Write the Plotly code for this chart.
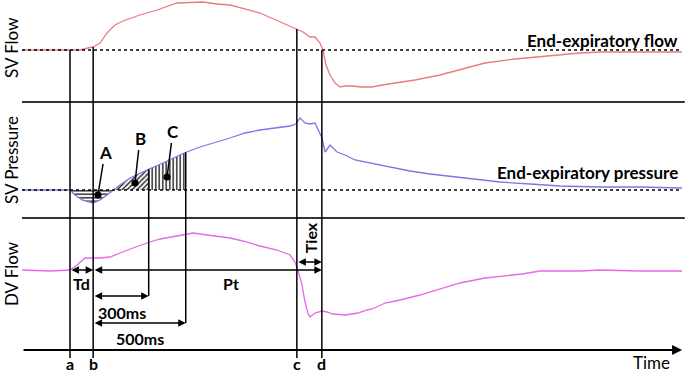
import numpy as np
import plotly.graph_objects as go

# ---------------- data (time in ms, signals as deviation from end-expiratory level, arbitrary units)
sv_flow_t = [-259, 0, 54, 97, 124, 162, 200, 243, 286, 378, 470, 578, 718, 794, 864, 1026, 1188,
             1226, 1258, 1296, 1323, 1350, 1366, 1382, 1404, 1431, 1458, 1485, 1523, 1577, 1631,
             1685, 1755, 1863, 1998, 2106, 2241, 2403, 2565, 2754, 2862, 3078, 3305]
sv_flow = [0, 0, 0, 2, 3, 7, 17, 25, 29, 35, 40, 47, 48, 46, 45, 37, 24,
           21, 18, 13, 13, 7, 0, -15, -25, -33, -37, -36, -36, -37, -37,
           -35, -33, -30, -25, -20, -13, -9, -6, -3, -2, -2, -2]

sv_pres_t = [-259, 0, 27, 65, 124, 162, 200, 232, 270, 324, 378, 427, 502, 616, 702, 794, 864,
             945, 1026, 1107, 1188, 1220, 1242, 1269, 1296, 1323, 1361, 1377, 1404, 1442, 1485,
             1539, 1620, 1701, 1836, 1944, 2079, 2160, 2322, 2484, 2646, 2862, 3078, 3305]
sv_pres = [0, 0, -5, -10, -13, -10, -5, 0, 5, 12, 17, 21, 27, 37, 43, 48, 52,
           57, 60, 62, 64, 66, 72, 67, 66, 67, 52, 38, 45, 38, 35,
           30, 27, 24, 19, 16, 13, 11, 8, 6, 4, 3, 3, 2]

dv_flow_t = [-259, -108, 0, 38, 81, 124, 162, 216, 270, 340, 416, 486, 578, 664, 740, 864, 934,
             1026, 1118, 1188, 1215, 1231, 1253, 1269, 1285, 1296, 1323, 1361, 1388, 1420, 1485,
             1555, 1604, 1631, 1701, 1782, 1890, 1998, 2106, 2241, 2349, 2441, 2538, 2754, 2862,
             3078, 3305]
dv_flow = [0, -1, 0, 5, 12, 12, 12, 13, 17, 22, 27, 31, 34, 37, 35, 32, 29,
           24, 20, 15, 8, 0, -15, -32, -43, -47, -43, -41, -42, -44, -45,
           -43, -40, -39, -33, -30, -25, -19, -13, -8, -6, -4, -1, -1, 0,
           -1, -1]

# event times (ms)
T_A, T_B, T_C, T_D = 0, 125, 1225, 1360
T_300, T_500 = T_B + 300, T_B + 500
T_CROSS = 232  # pressure returns to end-expiratory level

event_labels = ["a", "b", "c", "d"]
event_times = [T_A, T_B, T_C, T_D]

# ---------------- layout constants (positions)
BASE_SVF, BASE_SVP, BASE_DVF = 300, 160, 80
SEP1, SEP2, AXIS_Y = 248, 132, 0
X_LEFT, X_RIGHT = -259, 3305
X_DOT_END = 3290
V_BOTTOM = -8

C_SVF, C_SVP, C_DVF = "#e97b7f", "#7b78e4", "#e46be6"
BOLD = "Lato"
FONT = "Lato"

fig = go.Figure()

def sv_f(t):
    return BASE_SVF + float(np.interp(t, sv_flow_t, sv_flow))

def sv_p(t):
    return BASE_SVP + float(np.interp(t, sv_pres_t, sv_pres))

# ---------------- hatched areas
def hatch(t0, t1, shape):
    tt = np.unique(np.concatenate([np.linspace(t0, t1, 60),
                                   [t for t in sv_pres_t if t0 < t < t1]]))
    yy = BASE_SVP + np.interp(tt, sv_pres_t, sv_pres)
    fig.add_trace(go.Scatter(x=[t0, t1], y=[BASE_SVP, BASE_SVP], mode="lines",
                             line=dict(width=0), hoverinfo="skip"))
    fig.add_trace(go.Scatter(x=tt, y=yy, mode="lines", line=dict(width=0),
                             fill="tonexty", fillcolor="white",
                             fillpattern=dict(shape=shape, fgcolor="black", bgcolor="white",
                                              fgopacity=1, size=3.5, solidity=0.35),
                             hoverinfo="skip"))

hatch(T_A, T_CROSS, "-")
hatch(T_CROSS, T_300, "/")
hatch(T_300, T_500, "|")

# ---------------- signals
fig.add_trace(go.Scatter(x=sv_flow_t, y=[BASE_SVF + v for v in sv_flow], mode="lines",
                         line=dict(color=C_SVF, width=1.3)))
fig.add_trace(go.Scatter(x=sv_pres_t, y=[BASE_SVP + v for v in sv_pres], mode="lines",
                         line=dict(color=C_SVP, width=1.3)))
fig.add_trace(go.Scatter(x=dv_flow_t, y=[BASE_DVF + v for v in dv_flow], mode="lines",
                         line=dict(color=C_DVF, width=1.3)))

shapes = []
# separators
for yv in (SEP1, SEP2):
    shapes.append(dict(type="line", xref="x", yref="y", x0=X_LEFT, x1=X_RIGHT + 15, y0=yv, y1=yv,
                       line=dict(color="#333", width=2)))
# dotted end-expiratory levels
for yv in (BASE_SVF, BASE_SVP):
    shapes.append(dict(type="line", xref="x", yref="y", x0=X_LEFT, x1=X_DOT_END, y0=yv, y1=yv,
                       line=dict(color="black", width=1.5, dash="dot")))
# event verticals
tops = {T_A: BASE_SVF, T_B: sv_f(T_B), T_C: sv_f(T_C), T_D: BASE_SVF}
for t in event_times:
    shapes.append(dict(type="line", xref="x", yref="y", x0=t, x1=t, y0=tops[t], y1=V_BOTTOM,
                       line=dict(color="black", width=1.5)))
# 300ms / 500ms verticals
Y_300, Y_500 = 54, 27
shapes.append(dict(type="line", xref="x", yref="y", x0=T_300, x1=T_300, y0=sv_p(T_300), y1=Y_300,
                   line=dict(color="black", width=1.5)))
shapes.append(dict(type="line", xref="x", yref="y", x0=T_500, x1=T_500, y0=sv_p(T_500), y1=Y_500,
                   line=dict(color="black", width=1.5)))

ann = []

def arrow(x0, x1, y, both=True, width=1.5):
    ann.append(dict(x=x1, y=y, ax=x0, ay=y, xref="x", yref="y", axref="x", ayref="y",
                    text="", showarrow=True, arrowhead=2, arrowsize=1, arrowwidth=width,
                    arrowcolor="black", arrowside="end+start" if both else "end",
                    standoff=0, startstandoff=0))

# time axis
arrow(X_LEFT, X_RIGHT, AXIS_Y, both=False, width=2)
# intervals
arrow(T_A, T_B, BASE_DVF)                 # Td
arrow(T_B, T_D, BASE_DVF)                 # Pt
arrow(T_C, T_D, 88)                       # Tiex
arrow(T_B, T_300, Y_300)                  # 300ms
arrow(T_B, T_500, Y_500)                  # 500ms

def txt(x, y, s, size=16, bold=True, angle=0, xanchor="center"):
    ann.append(dict(x=x, y=y, xref="x", yref="y", text=s, showarrow=False, textangle=angle,
                    xanchor=xanchor, yanchor="middle", borderpad=0,
                    font=dict(family=BOLD if bold else FONT, size=size, color="black",
                              weight="bold" if bold else "normal")))

txt(60, 67, "Td")
txt(870, 67, "Pt")
txt(280, 38, "300ms")
txt(378, 12, "500ms")
txt(1297, 112, "Tiex", angle=-90)
for s, t in zip(event_labels, event_times):
    txt(t, -13, s)
txt(3140, -12, "Time", bold=False, size=17)
txt(3290, 310, "End-expiratory flow", size=17, xanchor="right")
txt(3290, 178, "End-expiratory pressure", size=17, xanchor="right")

# y-panel titles
for s, yv in (("SV Flow", 302), ("SV Pressure", 190), ("DV Flow", 76)):
    txt(-318, yv, s, bold=False, size=17, angle=-90)

# A, B, C markers
for s, tx, ty, dx, dy in (("A", 189, 198, 151, 155),
                          ("B", 378, 212, 351, 167),
                          ("C", 556, 219, 524, 173)):
    ann.append(dict(x=dx, y=dy, ax=tx, ay=ty, xref="x", yref="y", axref="x", ayref="y",
                    text="<b>%s</b>" % s, showarrow=True, arrowhead=6, arrowsize=1.2,
                    arrowwidth=1.5, arrowcolor="black", standoff=0,
                    font=dict(family=BOLD, size=17, color="black")))

fig.update_layout(
    width=685, height=373, margin=dict(l=0, r=0, t=0, b=0),
    paper_bgcolor="white", plot_bgcolor="white", showlegend=False,
    xaxis=dict(range=[-378, 3321], visible=False, fixedrange=True),
    yaxis=dict(range=[-23, 350], visible=False, fixedrange=True),
    shapes=shapes, annotations=ann,
)

fig.write_html("out.html", config={"displayModeBar": False},
               post_script="document.body.style.margin='0';document.body.style.overflow='hidden';")
